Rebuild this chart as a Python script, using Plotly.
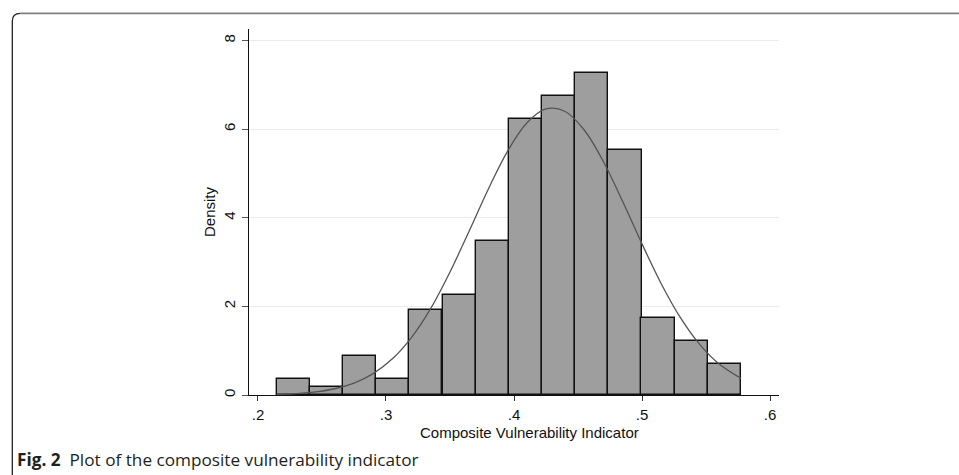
import plotly.graph_objects as go

# Histogram bins (left edges) and densities
bin_left = [0.2146, 0.2406, 0.2664, 0.2922, 0.3182, 0.3443, 0.3701,
            0.3961, 0.4219, 0.4477, 0.4737, 0.4995, 0.5255, 0.5513]
bin_width = 0.0259
density = [0.35, 0.17, 0.87, 0.35, 1.91, 2.25, 3.47,
           6.23, 6.75, 7.27, 5.54, 1.74, 1.22, 0.69]

# Normal density overlay
curve_x = [0.2146, 0.23, 0.245, 0.26, 0.275, 0.29, 0.305, 0.32, 0.335, 0.35,
           0.365, 0.38, 0.395, 0.41, 0.425, 0.44, 0.455, 0.47, 0.485, 0.5,
           0.515, 0.53, 0.545, 0.56, 0.5773]
curve_y = [0.014, 0.033, 0.070, 0.141, 0.269, 0.483, 0.816, 1.302, 1.954, 2.775,
           3.701, 4.650, 5.505, 6.140, 6.457, 6.399, 5.975, 5.259, 4.361, 3.410,
           2.512, 1.744, 1.141, 0.704, 0.375]

x_ticks = [0.2, 0.3, 0.4, 0.5, 0.6]
x_tick_labels = [".2", ".3", ".4", ".5", ".6"]
y_ticks = [0, 2, 4, 6, 8]
y_tick_labels = ["0", "2", "4", "6", "8"]

x_title = "Composite Vulnerability Indicator"
y_title = "Density"
caption_bold = "Fig. 2"
caption_text = "Plot of the composite vulnerability indicator"

W, H = 959, 475
L, R, T, B = 249, 180, 29, 80
pw, ph = W - L - R, H - T - B


def px(xp):
    return (xp - L) / pw


def py(yp):
    return (H - B - yp) / ph


fig = go.Figure()
fig.add_trace(go.Bar(
    x=bin_left, y=density, width=bin_width, offset=0,
    marker=dict(color="rgb(157,158,157)", line=dict(color="#111111", width=1.4)),
    hoverinfo="skip", showlegend=False,
))
fig.add_trace(go.Scatter(
    x=curve_x, y=curve_y, mode="lines", line=dict(color="#555555", width=1.3, shape="spline"),
    hoverinfo="skip", showlegend=False,
))

axis_font = dict(family="Liberation Sans, Arial, sans-serif", size=15, color="#111111")
fig.update_layout(
    width=W, height=H,
    margin=dict(l=L, r=R, t=T, b=B, pad=0),
    paper_bgcolor="white", plot_bgcolor="white",
    bargap=0,
    font=axis_font,
    xaxis=dict(
        range=[0.193, 0.607], tickmode="array", tickvals=x_ticks, ticktext=x_tick_labels,
        ticks="outside", ticklen=5, tickcolor="#333333", tickwidth=1,
        ticklabelstandoff=1,
        showline=True, linecolor="#111111", linewidth=1.2,
        showgrid=False, zeroline=False,
        tickfont=axis_font,
    ),
    yaxis=dict(
        range=[0, 8.26], tickmode="array", tickvals=y_ticks, ticktext=y_tick_labels,
        ticks="outside", ticklen=6, tickcolor="#555555", tickwidth=1,
        tickangle=-90, ticklabelstandoff=1,
        showline=True, linecolor="#111111", linewidth=1.2,
        showgrid=True, gridcolor="#ececec", gridwidth=1,
        zeroline=False,
        title=dict(text=y_title, font=axis_font, standoff=1),
        tickfont=axis_font,
    ),
)

# x-axis title
fig.add_annotation(
    xref="paper", yref="paper", x=px(529), y=py(432), xanchor="center", yanchor="middle",
    text=x_title, showarrow=False, font=axis_font,
)

# Frame with rounded top-left corner
left_x, top_y, r = 12.3, 13.3, 8
fig.add_shape(
    type="path", xref="paper", yref="paper",
    path=(f"M {px(left_x)},{py(480)} L {px(left_x)},{py(top_y + r)} "
          f"Q {px(left_x)},{py(top_y)} {px(left_x + r)},{py(top_y)}"),
    line=dict(color="#222222", width=1.3), layer="above",
)
fig.add_shape(
    type="line", xref="paper", yref="paper",
    x0=px(left_x + r), y0=py(top_y), x1=px(965), y1=py(top_y),
    line=dict(color="#808080", width=1.8), layer="above",
)

fig.add_annotation(
    xref="paper", yref="paper", x=px(15), y=py(459), xanchor="left", yanchor="middle",
    text=f"<b>{caption_bold}</b>  {caption_text}", showarrow=False,
    font=dict(family="Open Sans, sans-serif", size=17.2, color="#231f20"),
)

fig.write_html(
    "out.html",
    config={"displayModeBar": False},
    post_script="document.body.style.margin='0px';document.body.style.overflow='hidden';",
)
